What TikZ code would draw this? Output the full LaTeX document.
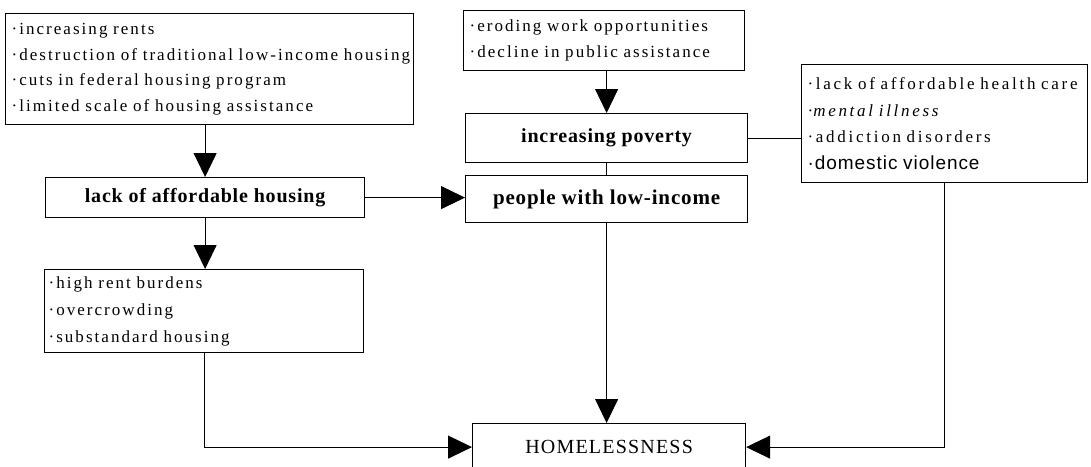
\documentclass[tikz,border=0pt]{standalone}
\usepackage{fontspec}
\setmainfont{Liberation Serif}
\newfontfamily\bulfont[LetterSpace=12]{Liberation Serif}
\newfontfamily\rbulfont[LetterSpace=16]{Liberation Serif}
\newfontfamily\labfont[LetterSpace=4]{Liberation Serif}
\newfontfamily\homefont[LetterSpace=6]{Liberation Serif}
\newfontfamily\sansbul[LetterSpace=5]{Liberation Sans}
\usetikzlibrary{arrows.meta}
\tikzset{
  listbox/.style={draw, line width=1.2pt, anchor=north west, align=left, inner xsep=6pt, inner ysep=0pt,
    font=\bulfont\fontsize{17}{25.5}\selectfont},
  labbox/.style={draw, line width=1.2pt, anchor=north west, inner sep=0pt,
    font=\labfont\bfseries\fontsize{20}{22}\selectfont},
  conn/.style={line width=1pt},
  arr/.style={line width=1pt, -{Triangle[length=24pt,width=23pt]}}
}
\begin{document}
\begin{tikzpicture}[x=1pt,y=-1pt]
\clip (0,0) rectangle (1091,466);
\fill[white] (0,0) rectangle (1091,466);
% boxes
\node[listbox, text width=396pt, minimum height=111pt] (A) at (5,13)
  {·increasing rents\\·destruction of traditional low-income housing\\·cuts in federal housing program\\·limited scale of housing assistance};
\node[listbox, text width=269pt, minimum height=60pt] (B) at (463,10)
  {·eroding work opportunities\\·decline in public assistance};
\node[labbox, minimum width=319pt, minimum height=40pt] (lack) at (45,177) {lack of affordable housing};
\node[listbox, text width=311pt, minimum height=83pt, inner xsep=4pt, font=\bulfont\fontsize{17}{27}\selectfont] (high) at (44,269)
  {·high rent burdens\\·overcrowding\\·substandard housing};
\node[labbox, minimum width=282pt, minimum height=49pt] (pov) at (465,113) {increasing poverty};
\node[labbox, minimum width=282pt, minimum height=47pt, font=\labfont\bfseries\fontsize{21}{22}\selectfont] (low) at (465,175) {people with low-income};
\node[listbox, text width=274pt, minimum height=118pt, font=\rbulfont\fontsize{17}{26.5}\selectfont] (R) at (801,64)
  {·lack of affordable health care\\·\textit{mental illness}\\·addiction disorders\\{\sansbul\fontsize{19}{26.5}\selectfont ·domestic violence}};
\node[draw, line width=1.2pt, anchor=north west, inner sep=0pt, minimum width=273pt, minimum height=47pt,
  font=\homefont\fontsize{20}{22}\selectfont] (home) at (472,423) {HOMELESSNESS};
% connectors
\draw[arr] (lack.north |- A.south) -- (lack.north);
\draw[arr] (lack.east) -- (lack.east -| low.west);
\draw[arr] (lack.south) -- (lack.south |- high.north);
\draw[arr] (pov.north |- B.south) -- (pov.north);
\draw[conn] (pov.south) -- (low.north);
\draw[conn] (pov.east) -- (pov.east -| R.west);
\draw[arr] (low.south) -- (low.south |- home.north);
\draw[arr] (high.south) |- (home.west);
\draw[arr] (R.south) |- (home.east);
\end{tikzpicture}
\end{document}
